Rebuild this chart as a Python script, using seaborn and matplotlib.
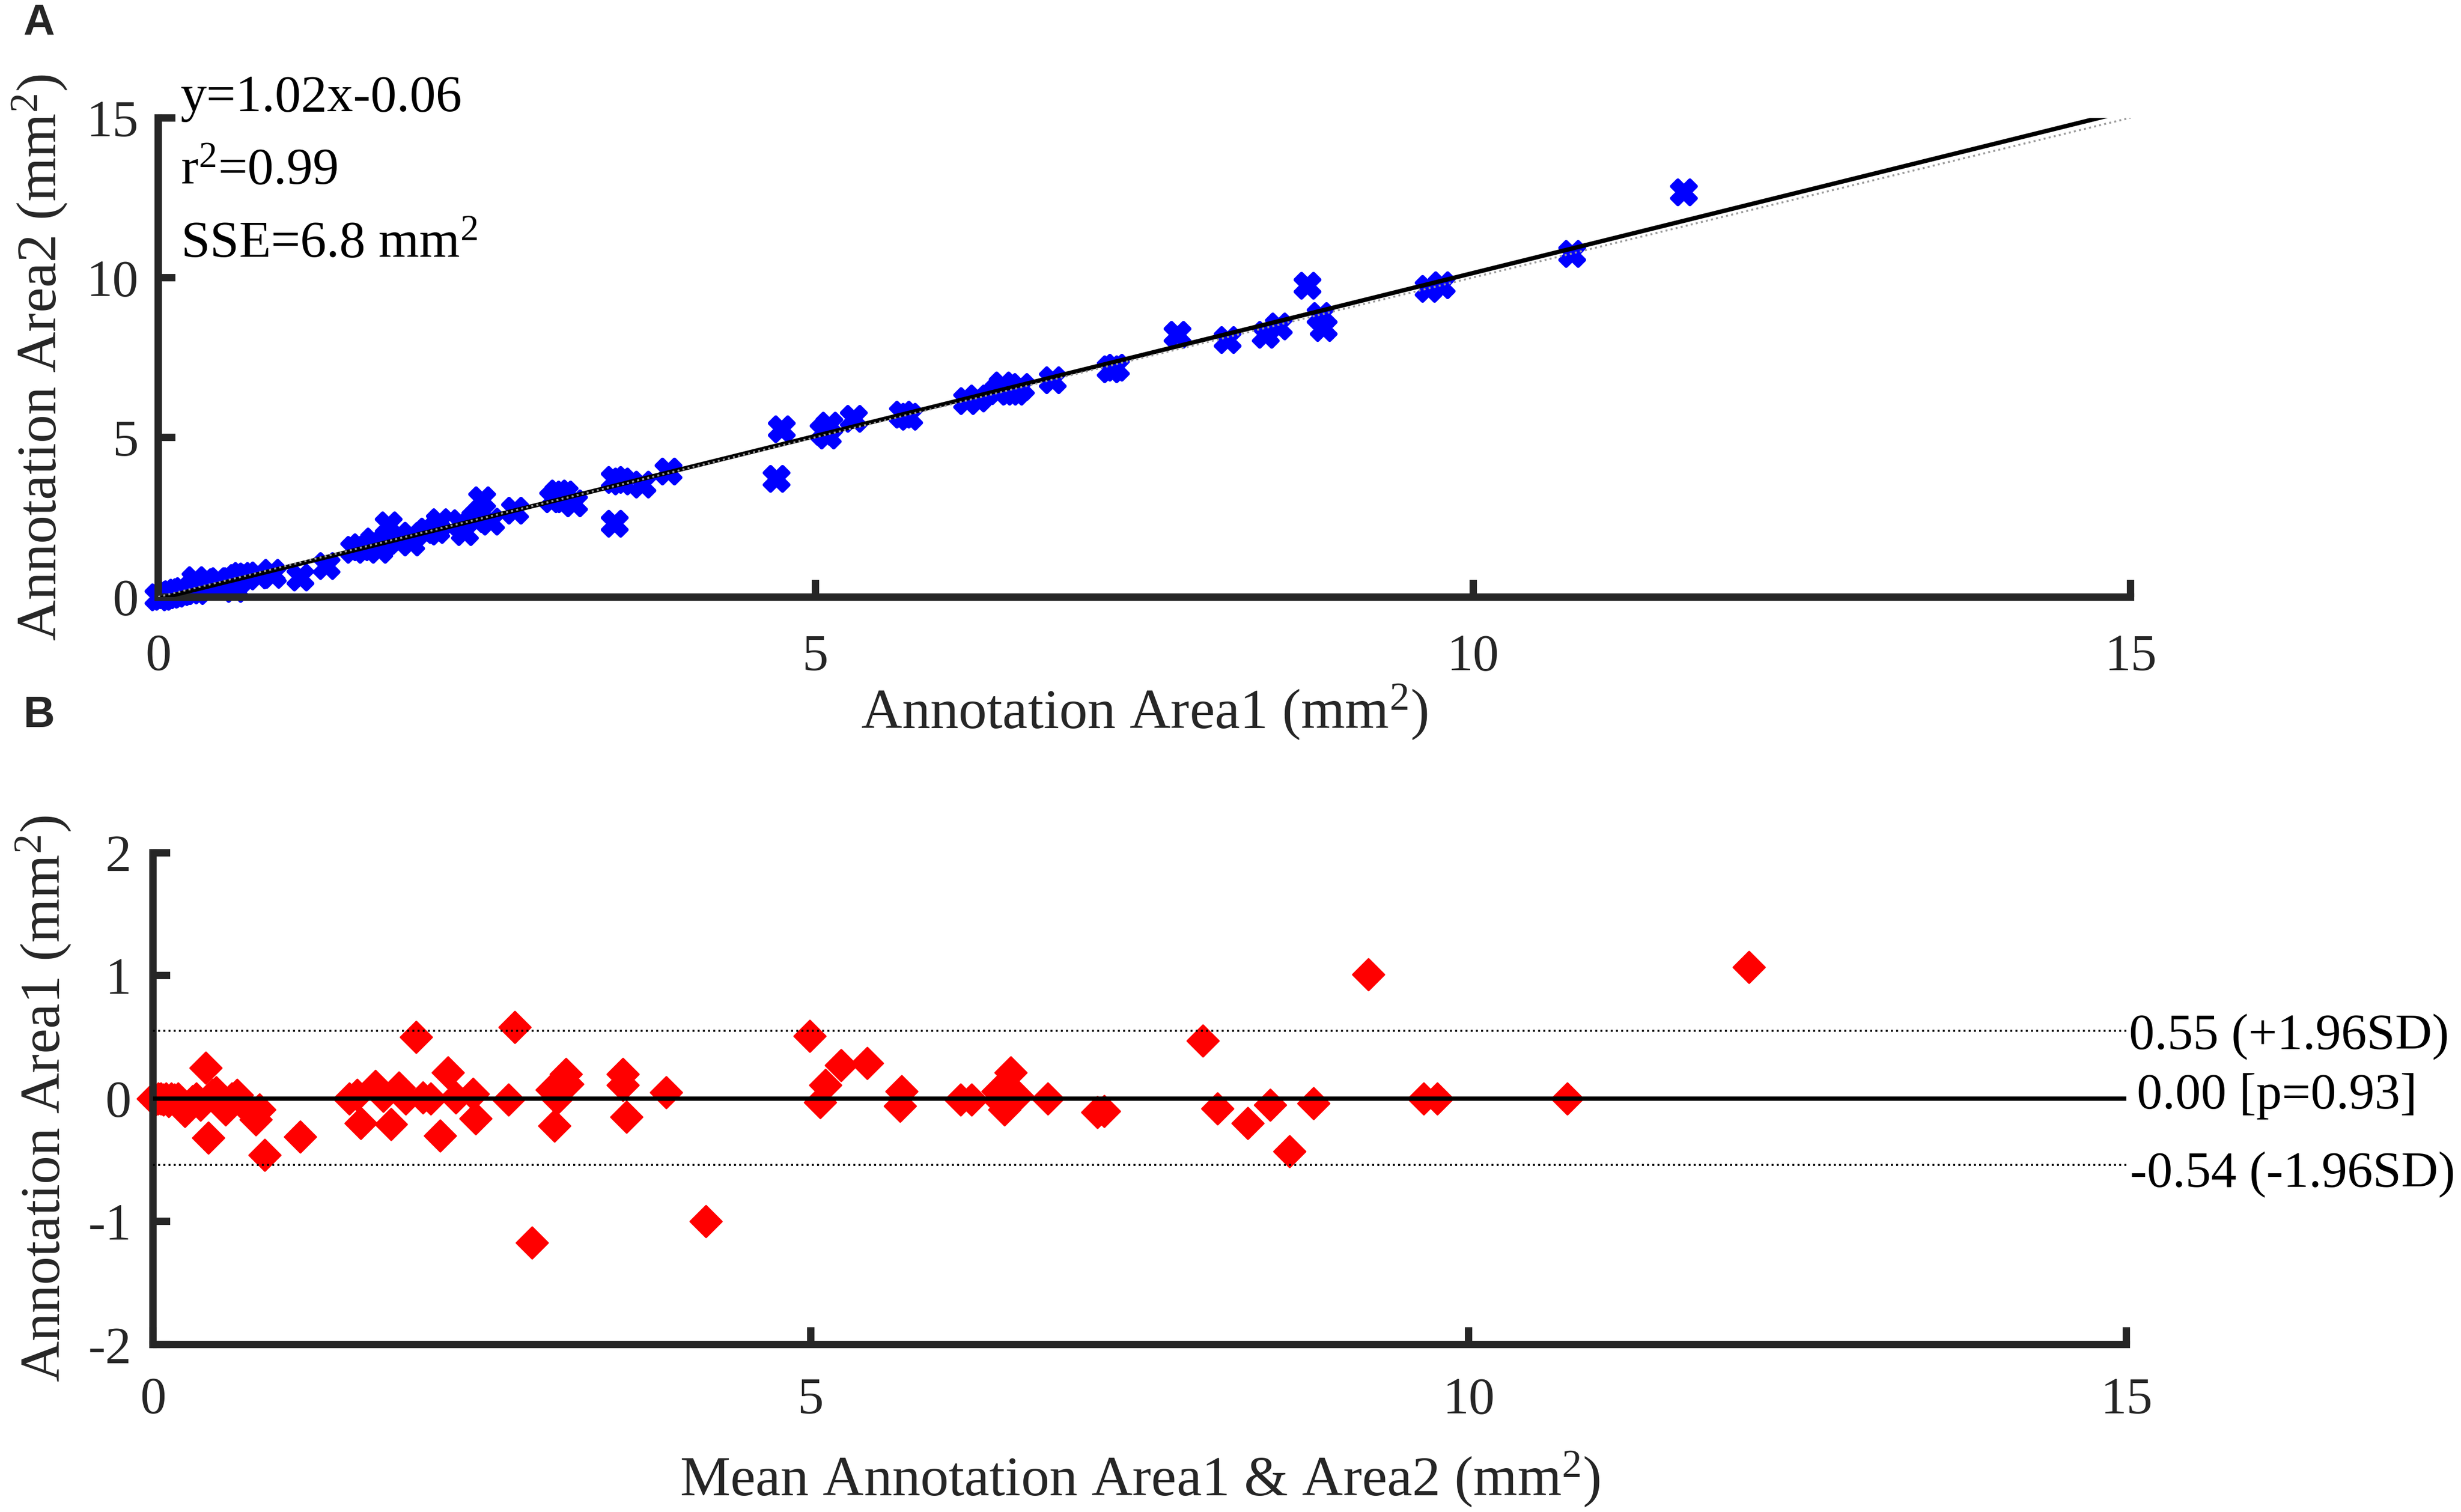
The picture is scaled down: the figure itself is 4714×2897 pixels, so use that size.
import matplotlib
matplotlib.use("Agg")
import matplotlib.pyplot as plt
import seaborn as sns

# panel A: area from annotation 1 vs annotation 2 (mm^2)
area1 = [0.00, 0.03, 0.04, 0.06, 0.09, 0.10, 0.13, 0.14, 0.17, 0.19,
         0.24, 0.29, 0.30, 0.31, 0.33, 0.39, 0.28, 0.58, 0.44, 0.46,
         0.54, 0.60, 0.60, 0.63, 0.67, 0.76, 0.87, 0.86, 1.08, 1.28,
         1.49, 1.54, 1.68, 1.64, 1.74, 1.92, 1.83, 1.92, 1.75, 2.05,
         2.11, 2.33, 2.14, 2.30, 2.41, 2.53, 2.71, 2.46, 3.47, 3.00,
         3.16, 3.07, 3.04, 3.09, 3.47, 3.52, 3.68, 3.88, 4.70, 4.74,
         5.09, 5.06, 5.10, 5.29, 5.66, 5.71, 6.15, 6.23, 6.39, 6.47,
         6.52, 6.42, 6.56, 6.80, 7.24, 7.28, 7.75, 8.13, 8.42, 8.52,
         8.86, 8.84, 8.74, 9.66, 9.76, 10.75, 11.60]
area2 = [0.00, 0.02, 0.04, 0.06, 0.08, 0.10, 0.11, 0.14, 0.16, 0.19,
         0.20, 0.19, 0.24, 0.29, 0.33, 0.34, 0.53, 0.26, 0.47, 0.51,
         0.51, 0.51, 0.60, 0.66, 0.65, 0.68, 0.70, 0.77, 0.62, 0.97,
         1.49, 1.57, 1.48, 1.74, 1.76, 1.71, 1.92, 1.92, 2.25, 2.06,
         2.11, 2.03, 2.35, 2.31, 2.45, 2.37, 2.70, 3.04, 2.30, 3.07,
         2.94, 3.07, 3.24, 3.21, 3.67, 3.63, 3.53, 3.93, 3.70, 5.25,
         5.06, 5.17, 5.37, 5.58, 5.72, 5.65, 6.14, 6.22, 6.45, 6.44,
         6.43, 6.63, 6.58, 6.80, 7.13, 7.18, 8.22, 8.05, 8.22, 8.47,
         8.43, 8.80, 9.75, 9.66, 9.76, 10.75, 12.67]

# panel B: Bland-Altman, mean of both vs difference
mean_area = [0.00, 0.02, 0.04, 0.06, 0.08, 0.10, 0.12, 0.14, 0.16, 0.19,
             0.22, 0.24, 0.27, 0.30, 0.33, 0.36, 0.40, 0.42, 0.45, 0.48,
             0.52, 0.55, 0.60, 0.64, 0.66, 0.72, 0.78, 0.81, 0.85, 1.12,
             1.49, 1.55, 1.58, 1.69, 1.75, 1.81, 1.87, 1.92, 2.00, 2.05,
             2.11, 2.18, 2.24, 2.30, 2.43, 2.45, 2.70, 2.75, 2.88, 3.03,
             3.05, 3.07, 3.14, 3.15, 3.57, 3.57, 3.60, 3.90, 4.20, 4.99,
             5.07, 5.11, 5.23, 5.43, 5.69, 5.68, 6.14, 6.22, 6.42, 6.45,
             6.47, 6.52, 6.57, 6.80, 7.18, 7.23, 7.98, 8.09, 8.32, 8.49,
             8.64, 8.82, 9.24, 9.66, 9.76, 10.75, 12.13]
diff_area = [0.00, -0.01, 0.00, 0.00, -0.01, 0.00, -0.02, 0.00, -0.01, 0.00,
             -0.04, -0.10, -0.06, -0.02, 0.00, -0.05, 0.25, -0.32, 0.03, 0.05,
             -0.03, -0.09, 0.00, 0.03, -0.02, -0.08, -0.17, -0.09, -0.46, -0.31,
             0.00, 0.03, -0.20, 0.10, 0.02, -0.21, 0.09, 0.00, 0.50, 0.01,
             0.00, -0.30, 0.21, 0.01, 0.04, -0.16, -0.01, 0.58, -1.17, 0.07,
             -0.22, 0.00, 0.20, 0.12, 0.20, 0.11, -0.15, 0.05, -1.00, 0.51,
             -0.03, 0.11, 0.27, 0.29, 0.06, -0.06, -0.01, -0.01, 0.06, -0.03,
             -0.09, 0.21, 0.02, 0.00, -0.11, -0.10, 0.47, -0.08, -0.20, -0.05,
             -0.43, -0.04, 1.01, 0.00, 0.00, 0.00, 1.07]

fit_slope = 1.02
fit_intercept = -0.06
fit_text = ["y=1.02x-0.06", "r$^2$=0.99", "SSE=6.8 mm$^2$"]
fit_text_y = [15.2, 12.93, 10.64]

limit_values = [0.55, 0.00, -0.54]
limit_text = ["0.55 (+1.96SD)", "0.00 [p=0.93]", "-0.54 (-1.96SD)"]
limit_text_y = [0.50, 0.02, -0.62]
limit_text_x = [15.02, 15.08, 15.03]

sns.set_style("white")
plt.rcParams["font.family"] = ["Liberation Serif", "DejaVu Serif"]
plt.rcParams["mathtext.fontset"] = "custom"
plt.rcParams["mathtext.rm"] = "Liberation Serif"
plt.rcParams["mathtext.default"] = "regular"
plt.rcParams["axes.unicode_minus"] = False

axis_col = "#262626"

fig = plt.figure(figsize=(4714 / 300, 2897 / 300), dpi=300)
ax_a = fig.add_axes([0.0643, 0.6052, 0.8014, 0.3169])
ax_b = fig.add_axes([0.0622, 0.1108, 0.8018, 0.3252])

# ---- panel A
sns.scatterplot(x=area1, y=area2, ax=ax_a, marker="X", color="#0000ff",
                s=121, linewidth=1.8, edgecolor="#0000ff", clip_on=False,
                zorder=2, legend=False)
line_x = [0, 15]
ax_a.plot(line_x, [fit_intercept + fit_slope * v for v in line_x],
          color="black", lw=2, zorder=3, solid_capstyle="butt")
ax_a.plot(line_x, line_x, color="#9a9a9a", lw=0.9, ls=":", zorder=4)
for txt, ty in zip(fit_text, fit_text_y):
    ax_a.text(0.17, ty, txt, fontsize=24, va="baseline", ha="left",
              color="black", clip_on=False)
ax_a.set_xlim(0, 15)
ax_a.set_ylim(0, 15)
ax_a.set_xticks([0, 5, 10, 15])
ax_a.set_yticks([0, 5, 10, 15])
ax_a.set_xlabel("Annotation Area1 (mm$^2$)", fontsize=26, color=axis_col, labelpad=1)
ax_a.set_ylabel("Annotation Area2 (mm$^2$)", fontsize=26, color=axis_col, labelpad=8)
ax_a.tick_params(axis="x", pad=17)
ax_a.tick_params(axis="y", pad=9)

# ---- panel B
sns.scatterplot(x=mean_area, y=diff_area, ax=ax_b, marker="D", color="#ff0000",
                s=105, linewidth=0.8, edgecolor="#ff0000", clip_on=False,
                zorder=2, legend=False)
ax_b.hlines(limit_values, 0, 15, colors="black",
            linestyles=[":", "-", ":"], linewidths=[0.9, 2, 0.9], zorder=3)
for txt, tx, ty in zip(limit_text, limit_text_x, limit_text_y):
    ax_b.text(tx, ty, txt, fontsize=23.5, va="center", ha="left",
              color="black", clip_on=False)
ax_b.set_xlim(0, 15)
ax_b.set_ylim(-2, 2)
ax_b.set_xticks([0, 5, 10, 15])
ax_b.set_yticks([-2, -1, 0, 1, 2])
ax_b.set_xlabel("Mean Annotation Area1 & Area2 (mm$^2$)", fontsize=26,
                color=axis_col, labelpad=12)
ax_b.set_ylabel("Annotation Area1 (mm$^2$)", fontsize=26, color=axis_col, labelpad=7)
ax_b.tick_params(axis="x", pad=15)
ax_b.tick_params(axis="y", pad=10)

for ax in (ax_a, ax_b):
    sns.despine(ax=ax)
    for side in ("left", "bottom"):
        ax.spines[side].set_linewidth(3.4)
        ax.spines[side].set_color(axis_col)
    ax.tick_params(direction="in", length=8, width=3.4, color=axis_col,
                   labelcolor=axis_col, labelsize=24, left=True, bottom=True)
    ax.set_facecolor("white")
    ax.grid(False)

fig.text(0.0095, 0.9769, "A", fontsize=20, fontweight="bold",
         family="Liberation Sans", va="baseline", ha="left")
fig.text(0.0095, 0.519, "B", fontsize=20, fontweight="bold",
         family="Liberation Sans", va="baseline", ha="left")

fig.savefig("out.png", dpi=300, facecolor="white")
